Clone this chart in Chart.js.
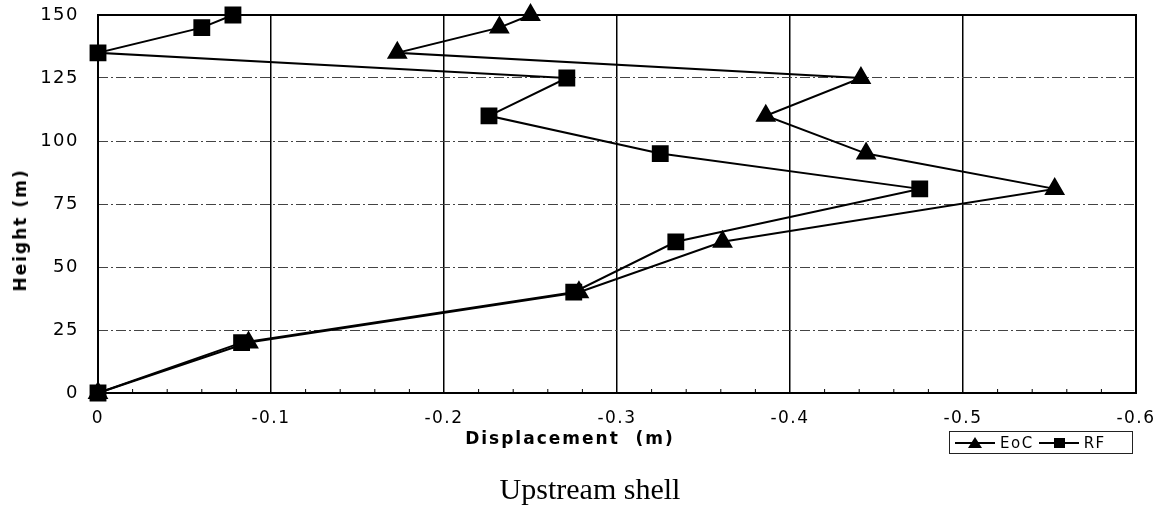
<!DOCTYPE html>
<html>
<head>
<meta charset="utf-8">
<script src="https://cdn.jsdelivr.net/npm/chart.js@4/dist/chart.umd.min.js"></script>
<style>
  html, body { margin: 0; padding: 0; background: #fff; }
  #wrap { position: relative; width: 1170px; height: 516px; font-family: "DejaVu Sans", sans-serif; color: #000; }
  #chart { position: absolute; left: 0; top: 0; }
  .ytitle { position: absolute; left: 20px; top: 230px; transform: translate(-50%, -50%) rotate(-90deg);
    font-weight: bold; font-size: 17px; white-space: nowrap; letter-spacing: 2px; }
  .xtitle { position: absolute; left: 570px; top: 438px; transform: translate(-50%, -50%);
    font-weight: bold; font-size: 17px; white-space: pre; letter-spacing: 2px; }
  .caption { position: absolute; left: 590px; top: 489px; transform: translate(-50%, -50%);
    font-family: "Liberation Serif", "Times New Roman", serif; font-size: 30px; white-space: nowrap; }
  #legend { position: absolute; left: 949px; top: 431px; width: 182px; height: 21px; border: 1px solid #222;
    display: flex; align-items: center; font-size: 15px; letter-spacing: 1.5px; }
  .item { display: flex; align-items: center; margin-left: 5px; }
  .sym { position: relative; width: 40px; height: 14px; margin-right: 5px; }
  .sym .ln { position: absolute; left: 0; right: 0; top: 6px; height: 2px; background: #000; }
  .tri { position: absolute; left: 13px; top: 1px; width: 0; height: 0; border-left: 7px solid transparent;
    border-right: 7px solid transparent; border-bottom: 11px solid #000; }
  .sq { position: absolute; left: 15px; top: 2px; width: 11px; height: 10px; background: #000; }
</style>
</head>
<body>
<div id="wrap">
  <canvas id="chart" width="1170" height="516"></canvas>
  <div class="ytitle">Height (m)</div>
  <div class="xtitle">Displacement  (m)</div>
  <div class="caption">Upstream shell</div>
  <div id="legend"></div>
</div>
<script>
// heights of the sections (m)
const heights = [0, 20, 40, 60, 81, 95, 110, 125, 135, 145, 150];
// horizontal displacement (m)
const eocDisp = [0, -0.087, -0.278, -0.361, -0.553, -0.444, -0.386, -0.441, -0.173, -0.232, -0.25];
const rfDisp = [0, -0.083, -0.275, -0.334, -0.475, -0.325, -0.226, -0.271, 0, -0.06, -0.078];
const seriesNames = ["EoC", "RF"];
const xTicks = [0, -0.1, -0.2, -0.3, -0.4, -0.5, -0.6];
const yTicks = [0, 25, 50, 75, 100, 125, 150];

function toPoints(xs) {
  return xs.map((x, i) => ({ x: x, y: heights[i] }));
}

// frame around the plot area + small minor ticks on the bottom axis
const frame = {
  id: "frame",
  beforeDraw(chart) {
    chart.ctx.letterSpacing = "1.5px";
  },
  afterDatasetsDraw(chart) {
    const { ctx, chartArea: a, scales } = chart;
    ctx.save();
    ctx.strokeStyle = "#000";
    ctx.lineWidth = 1;
    for (let v = 0; v >= -0.6; v -= 0.02) {
      if (Math.abs(v * 10 - Math.round(v * 10)) < 1e-6) continue;
      const px = scales.x.getPixelForValue(v);
      ctx.beginPath();
      ctx.moveTo(px, a.bottom);
      ctx.lineTo(px, a.bottom - 4);
      ctx.stroke();
    }
    ctx.lineWidth = 2;
    ctx.strokeRect(a.left, a.top, a.right - a.left, a.bottom - a.top);
    ctx.restore();
  },
};

new Chart(document.getElementById("chart"), {
  type: "scatter",
  data: {
    datasets: [
      {
        label: seriesNames[0],
        data: toPoints(eocDisp),
        showLine: true,
        borderColor: "#000",
        borderWidth: 2,
        pointStyle: "triangle",
        pointRadius: 10,
        pointBackgroundColor: "#000",
        pointBorderColor: "#000",
        clip: false,
      },
      {
        label: seriesNames[1],
        data: toPoints(rfDisp),
        showLine: true,
        borderColor: "#000",
        borderWidth: 2,
        pointStyle: "rect",
        pointRadius: 10.5,
        pointBackgroundColor: "#000",
        pointBorderColor: "#000",
        clip: false,
      },
    ],
  },
  options: {
    responsive: false,
    animation: false,
    layout: { padding: { left: 0, top: 15, right: 34, bottom: 83 } },
    plugins: { legend: { display: false }, tooltip: { enabled: false } },
    scales: {
      x: {
        type: "linear",
        min: -0.6,
        max: 0,
        reverse: true,
        afterFit: (s) => { s.height = 40; s.paddingLeft = 0; s.paddingRight = 0; },
        afterBuildTicks: (s) => { s.ticks = xTicks.map((v) => ({ value: v })); },
        ticks: {
          padding: 15,
          color: "#000",
          font: { family: "DejaVu Sans", size: 17 },
          callback: (v) => (v === 0 ? "0" : v.toFixed(1)),
        },
        grid: { color: "#000", lineWidth: 1.5, drawTicks: false },
        border: { display: false },
      },
      y: {
        min: 0,
        max: 150,
        afterFit: (s) => { s.width = 98; s.paddingTop = 0; s.paddingBottom = 0; },
        afterBuildTicks: (s) => { s.ticks = yTicks.map((v) => ({ value: v })); },
        ticks: {
          padding: 19,
          color: "#000",
          font: { family: "DejaVu Sans", size: 18 },
        },
        grid: { color: "#444", lineWidth: 1, drawTicks: false },
        border: { display: false, dash: [10, 3, 2, 3] },
      },
    },
  },
  plugins: [frame],
});

// legend
const legend = document.getElementById("legend");
seriesNames.forEach((name, i) => {
  const item = document.createElement("div");
  item.className = "item";
  item.innerHTML = '<span class="sym"><span class="ln"></span><span class="' + (i === 0 ? "tri" : "sq") + '"></span></span>' + name;
  legend.appendChild(item);
});
</script>
</body>
</html>
